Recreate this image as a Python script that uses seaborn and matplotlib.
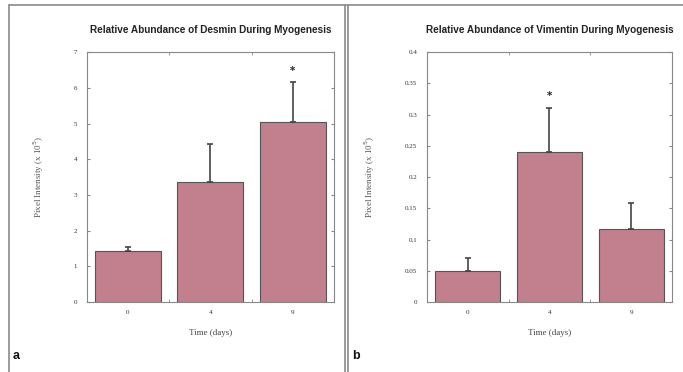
import numpy as np
import pandas as pd
import matplotlib
matplotlib.use('Agg')
import matplotlib.pyplot as plt
from matplotlib.lines import Line2D
import seaborn as sns

# data
days = ['0', '4', '9']
desmin = [1.42, 3.37, 5.05]
desmin_err = [0.13, 1.05, 1.10]
vimentin = [0.050, 0.240, 0.117]
vimentin_err = [0.020, 0.071, 0.041]
stars_desmin = [False, False, True]
stars_vimentin = [False, True, False]

bar_color = '#c2808f'
serif = ['Liberation Serif', 'DejaVu Serif']
sans = ['Liberation Sans', 'DejaVu Sans']

sns.set_style('white')
fig = plt.figure(figsize=(6.83, 3.72), dpi=100)


def panel(rect, values, errs, stars, title, ymax, yticks, ytl, letter, lx):
    ax = fig.add_axes(rect)
    df = pd.DataFrame({'day': days, 'value': values})
    sns.barplot(data=df, x='day', y='value', color=bar_color, width=0.8,
                edgecolor='#555555', linewidth=0.8, saturation=1, ax=ax)
    x = np.arange(len(days))
    ax.errorbar(x, values, yerr=[np.zeros(len(errs)), errs], fmt='none',
                ecolor='#444444', elinewidth=1.2, capsize=2, capthick=1.2)
    for xi, v, e, s in zip(x, values, errs, stars):
        if s:
            ax.text(xi, v + e + ymax * 0.025, '*', ha='center', va='bottom',
                    fontsize=7.5, fontweight='bold', color='#222222')
    ax.set_xlim(-0.5, 2.5)
    ax.set_ylim(0, ymax)
    ax.set_yticks(yticks)
    ax.set_yticklabels(ytl, family=serif, fontsize=5, color='#333333')
    ax.set_xticks(x)
    ax.set_xticklabels(days, family=serif, fontsize=5, color='#333333')
    ax.set_xticks([0.5, 1.5], minor=True)
    ax.tick_params(axis='x', which='major', length=0, pad=6)
    ax.tick_params(axis='x', which='minor', length=2, direction='in',
                   top=True, bottom=True, color='#888888')
    ax.tick_params(axis='y', which='major', length=2.5, direction='in',
                   left=True, right=True, color='#888888', pad=7)
    for sp in ax.spines.values():
        sp.set_color('#888888')
        sp.set_linewidth(0.8)
    ax.set_xlabel('Time (days)', family=serif, fontsize=6.5, color='#444444',
                  labelpad=10)
    ax.set_ylabel('Pixel Intensity (x 10$^5$)', family=serif, fontsize=6.5,
                  color='#555555', labelpad=20)
    ax.set_title(title, family=sans, fontsize=7.2, fontweight='bold',
                 color='#222222', pad=14)
    fig.text(lx, 0.035, letter, family=sans, fontsize=9, fontweight='bold',
             color='#111111')
    return ax


panel([0.127, 0.188, 0.362, 0.672], desmin, desmin_err, stars_desmin,
      'Relative Abundance of Desmin During Myogenesis', 7,
      np.arange(0, 8, 1), [str(v) for v in range(8)], 'a', 0.018)
panel([0.625, 0.188, 0.359, 0.672], vimentin, vimentin_err, stars_vimentin,
      'Relative Abundance of Vimentin During Myogenesis', 0.4,
      np.arange(0, 0.41, 0.05),
      ['0', '0.05', '0.1', '0.15', '0.2', '0.25', '0.3', '0.35', '0.4'],
      'b', 0.515)

# panel frames
W, H = 683, 372
frame = dict(color='#8a8a8a', linewidth=1.2, transform=fig.transFigure)
fig.add_artist(Line2D([9 / W, 1], [1 - 5 / H, 1 - 5 / H], **frame))
fig.add_artist(Line2D([9 / W, 9 / W], [0, 1 - 5 / H], **frame))
fig.add_artist(Line2D([345 / W, 345 / W], [0, 1 - 5 / H], **frame))
fig.add_artist(Line2D([348 / W, 348 / W], [0, 1 - 5 / H], **frame))

fig.savefig('out.png', dpi=100)
